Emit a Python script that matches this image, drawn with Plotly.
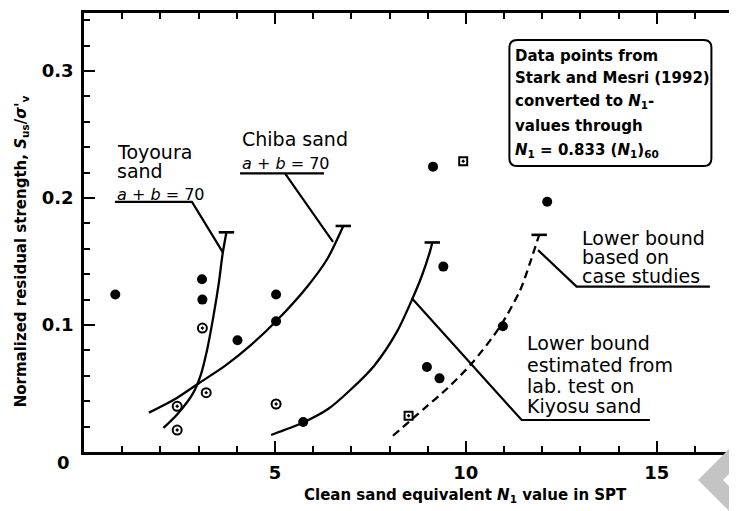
import plotly.graph_objects as go

# ---------------- data ----------------
filled_x = [0.82, 3.09, 3.10, 4.02, 5.03, 5.03, 5.74, 9.41, 8.98, 9.31, 9.14, 12.13, 10.97]
filled_y = [0.124, 0.136, 0.120, 0.088, 0.124, 0.103, 0.0236, 0.146, 0.067, 0.058, 0.2247, 0.197, 0.099]

opencirc_x = [3.10, 3.20, 2.44, 2.44, 5.03]
opencirc_y = [0.0976, 0.0467, 0.036, 0.0173, 0.0378]

square_x = [9.93, 8.50]
square_y = [0.229, 0.0286]

toyoura_x = [2.08, 2.45, 2.85, 3.05, 3.22, 3.39, 3.53, 3.63, 3.73]
toyoura_y = [0.019, 0.030, 0.046, 0.060, 0.080, 0.107, 0.133, 0.156, 0.173]

chiba_x = [1.70, 2.40, 3.00, 3.70, 4.36, 5.03, 5.84, 6.37, 6.79]
chiba_y = [0.031, 0.042, 0.054, 0.068, 0.084, 0.103, 0.130, 0.152, 0.178]

kiyosu_x = [4.90, 5.74, 6.40, 6.98, 7.60, 8.20, 8.59, 8.85, 9.07, 9.12]
kiyosu_y = [0.0134, 0.0232, 0.034, 0.049, 0.068, 0.095, 0.120, 0.139, 0.159, 0.165]

case_x = [8.09, 8.90, 9.51, 10.16, 10.90, 11.43, 11.68, 11.92]
case_y = [0.0128, 0.034, 0.050, 0.070, 0.099, 0.128, 0.149, 0.171]

x_tickvals = [5, 10, 15]
x_ticktext = ["5", "10", "15"]
y_tickvals = [0.1, 0.2, 0.3]
y_ticktext = ["0.1", "0.2", "0.3"]

X_RANGE = [0, 17.1]
Y_RANGE = [0, 0.3457]

LBL_FONT = dict(family="DejaVu Sans", size=19, color="black")
EQ_FONT = dict(family="DejaVu Sans", size=16, color="black")
BOX_FONT = dict(family="DejaVu Sans", size=15, color="black", weight="bold")

fig = go.Figure()

def curve(xs, ys, dash="solid"):
    fig.add_trace(go.Scatter(x=xs, y=ys, mode="lines",
                             line=dict(color="black", width=2.3, shape="spline", smoothing=0.8, dash=dash),
                             hoverinfo="skip", showlegend=False))
    fig.add_trace(go.Scatter(x=[xs[-1]], y=[ys[-1]], mode="markers",
                             marker=dict(symbol="line-ew-open", size=11, color="black",
                                         line=dict(color="black", width=2.6)),
                             hoverinfo="skip", showlegend=False))

curve(toyoura_x, toyoura_y)
curve(chiba_x, chiba_y)
curve(kiyosu_x, kiyosu_y)
curve(case_x, case_y, dash="8px,5px")

fig.add_trace(go.Scatter(x=filled_x, y=filled_y, mode="markers",
                         marker=dict(symbol="circle", size=10, color="black"),
                         showlegend=False))
fig.add_trace(go.Scatter(x=opencirc_x, y=opencirc_y, mode="markers",
                         marker=dict(symbol="circle-open-dot", size=9, color="black", line=dict(width=2)),
                         showlegend=False))
fig.add_trace(go.Scatter(x=square_x, y=square_y, mode="markers",
                         marker=dict(symbol="square-open-dot", size=8, color="black", line=dict(width=2)),
                         showlegend=False))

# ---------------- leader lines ----------------
leaders = [
    "M 0.812,0.1969 L 2.828,0.1969 L 3.64,0.157",
    "M 4.085,0.2194 L 6.284,0.2194 M 5.263,0.2194 L 6.52,0.1654",
    "M 8.58,0.1213 L 11.46,0.0252 L 14.82,0.0252",
    "M 11.89,0.159 L 12.90,0.1302 L 16.39,0.1302",
]
shapes = [dict(type="path", path=p, xref="x", yref="y", line=dict(color="black", width=2.2)) for p in leaders]

# rounded box
x0, x1, y0, y1 = 11.14, 16.43, 0.2252, 0.3244
rx, ry = 0.2, 0.006
box = (f"M {x0+rx},{y1} L {x1-rx},{y1} Q {x1},{y1} {x1},{y1-ry} L {x1},{y0+ry} "
       f"Q {x1},{y0} {x1-rx},{y0} L {x0+rx},{y0} Q {x0},{y0} {x0},{y0+ry} "
       f"L {x0},{y1-ry} Q {x0},{y1} {x0+rx},{y1} Z")
shapes.append(dict(type="path", path=box, xref="x", yref="y", line=dict(color="black", width=2)))

# gray watermark chevron (bottom-right)
def pp(px, py):
    return (px - 84) / 653, (452 - py) / 439
pts = [pp(698, 480), pp(737, 441), pp(737, 466), pp(723, 480), pp(737, 494), pp(737, 519)]
chev = "M " + " L ".join(f"{a},{b}" for a, b in pts) + " Z"
shapes.append(dict(type="path", path=chev, xref="paper", yref="paper",
                   fillcolor="#c4c4c4", line=dict(width=0), layer="above"))

# ---------------- annotations ----------------
ann = []
def txt(x, y, s, font=LBL_FONT):
    ann.append(dict(x=x, y=y, xref="x", yref="y", text=s, showarrow=False,
                    xanchor="left", yanchor="middle", font=font))

txt(0.81, 0.2365, "Toyoura")
txt(0.81, 0.2212, "sand")
txt(0.81, 0.2030, "<i>a</i> + <i>b</i> = 70", EQ_FONT)
txt(4.08, 0.2465, "Chiba sand")
txt(4.08, 0.2275, "<i>a</i> + <i>b</i> = 70", EQ_FONT)

txt(11.23, 0.3118, "Data points from", BOX_FONT)
txt(11.23, 0.2945, "Stark and Mesri (1992)", BOX_FONT)
txt(11.23, 0.2764, "converted to <i>N</i><sub>1</sub>-", BOX_FONT)
txt(11.23, 0.2567, "values through", BOX_FONT)
txt(11.23, 0.2378, "<i>N</i><sub>1</sub> = 0.833 (<i>N</i><sub>1</sub>)<sub>60</sub>", BOX_FONT)

txt(12.99, 0.1685, "Lower bound")
txt(12.99, 0.1532, "based on")
txt(12.99, 0.1385, "case studies")

txt(11.55, 0.0855, "Lower bound")
txt(11.55, 0.0685, "estimated from")
txt(11.55, 0.0518, "lab. test on")
txt(11.55, 0.0360, "Kiyosu sand")

TICK_FONT = dict(family="DejaVu Sans", size=18, color="black", weight="bold")
ann.append(dict(x=0, y=0, xref="paper", yref="y", text="0", showarrow=False,
                xanchor="right", yanchor="middle", xshift=-12, yshift=-10, font=TICK_FONT))

TITLE_FONT = dict(family="DejaVu Sans", size=15, color="black", weight="bold")
ann.append(dict(x=0.5835, y=-0.1002, xref="paper", yref="paper",
                text="Clean sand equivalent <i>N</i><sub>1</sub> value in SPT",
                showarrow=False, xanchor="center", yanchor="middle", font=TITLE_FONT))
ann.append(dict(x=-0.0965, y=0.457, xref="paper", yref="paper", textangle=-90,
                text="Normalized residual strength, <i>S</i><sub>us</sub>/<i>σ'</i><sub>v</sub>",
                showarrow=False, xanchor="center", yanchor="middle", font=TITLE_FONT))

# the page body has an 8px margin: shrink the figure so the plot area lands
# at x 84..737, y 13..452 of the 737x511 window
fig.update_layout(
    width=729, height=503,
    margin=dict(l=76, r=0, t=5, b=59),
    paper_bgcolor="white", plot_bgcolor="white",
    shapes=shapes, annotations=ann,
    xaxis=dict(range=X_RANGE, showgrid=False, zeroline=False,
               showline=True, linecolor="black", linewidth=2.5, mirror="ticks",
               ticks="inside", ticklen=11, tickwidth=2, tickcolor="black",
               tickvals=x_tickvals, ticktext=x_ticktext, tickfont=TICK_FONT,
               ticklabelstandoff=3,
               minor=dict(ticks="inside", dtick=1, tick0=0, ticklen=6, tickwidth=2, tickcolor="black", showgrid=False)),
    yaxis=dict(range=Y_RANGE, showgrid=False, zeroline=False,
               showline=True, linecolor="black", linewidth=2.5,
               ticks="inside", ticklen=11, tickwidth=2, tickcolor="black",
               tickvals=y_tickvals, ticktext=y_ticktext, tickfont=TICK_FONT,
               ticklabelstandoff=4,
               minor=dict(ticks="inside", dtick=0.02, tick0=0, ticklen=6, tickwidth=2, tickcolor="black", showgrid=False)),
)

fig.write_html("out.html")
